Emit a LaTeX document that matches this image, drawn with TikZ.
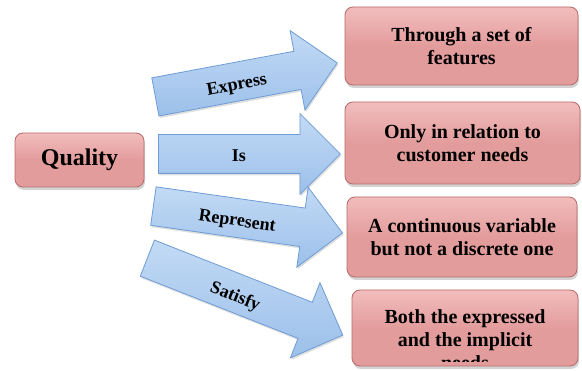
\documentclass[tikz,border=0pt]{standalone}
\usepackage{fontspec}
\setmainfont{Liberation Serif}
\usetikzlibrary{shapes.arrows,shadows,calc}
\definecolor{pinkfill}{HTML}{E39C9C}
\definecolor{pinktop}{HTML}{F2BDBD}
\definecolor{pinkedge}{HTML}{B86A6A}
\definecolor{bluefill}{HTML}{9CC0EA}
\definecolor{bluetop}{HTML}{C2DAF5}
\definecolor{blueedge}{HTML}{6E9CD4}
\tikzset{
  pbox/.style={rectangle, rounded corners=8pt, draw=pinkedge, line width=0.8pt,
    top color=pinktop, bottom color=pinkfill, middle color=pinkfill,
    drop shadow={shadow xshift=1pt, shadow yshift=-3pt, opacity=0.35},
    font=\bfseries\fontsize{20}{23}\selectfont, align=center, inner sep=2pt},
  arr/.style={single arrow, single arrow head extend=21pt, single arrow tip angle=90,
    inner xsep=0pt, inner ysep=19pt, minimum height=#1, anchor=tail,
    draw=blueedge, line width=0.8pt, top color=bluetop, bottom color=bluefill,
    drop shadow={shadow xshift=1pt, shadow yshift=-2pt, opacity=0.25}},
  lab/.style={font=\bfseries\fontsize{18}{20}\selectfont, inner sep=0pt},
  btxt/.style={font=\bfseries\fontsize{20}{23}\selectfont, align=center, inner sep=0pt}
}
\begin{document}
\begin{tikzpicture}[x=1pt,y=1pt]
\useasboundingbox (0,0) rectangle (582,-371);
% central box
\node[pbox, minimum width=129pt, minimum height=54pt, font=\bfseries\fontsize{24}{28}\selectfont] (q) at (79.5,-160) {Quality};
% arrows
\node[arr=185pt, rotate=10.6] (a1) at (155,-97) {};
\node[arr=182pt, rotate=0] (a2) at (158,-154) {};
\node[arr=191pt, rotate=-8.1] (a3) at (153,-206) {};
\node[arr=210pt, rotate=-21.5] (a4) at (147,-258) {};
% arrow labels
\node[lab, rotate=10.6] (l1) at (237,-86) {Express};
\node[lab] (l2) at (239,-156) {Is};
\node[lab, rotate=-8.1] (l3) at (237,-222) {Represent};
\node[lab, rotate=-21.5] (l4) at (235,-297) {Satisfy};
% right boxes
\node[pbox, minimum width=233pt, minimum height=78pt] (b1) at (461.5,-46) {Through a set of\\features};
\node[pbox, minimum width=235pt, minimum height=82pt] (b2) at (462.5,-143) {Only in relation to\\customer needs};
\node[pbox, minimum width=230pt, minimum height=80pt] (b3) at (462,-237) {A continuous variable\\but not a discrete one};
\node[pbox, minimum width=226pt, minimum height=76pt] (b4) at (465,-328) {};
\begin{scope}
  \clip ($(b4.north west)$) rectangle ($(b4.south east)+(0,5)$);
  \node[btxt] (t4) at (465,-340) {Both the expressed\\and the implicit\\needs};
\end{scope}
\end{tikzpicture}
\end{document}
